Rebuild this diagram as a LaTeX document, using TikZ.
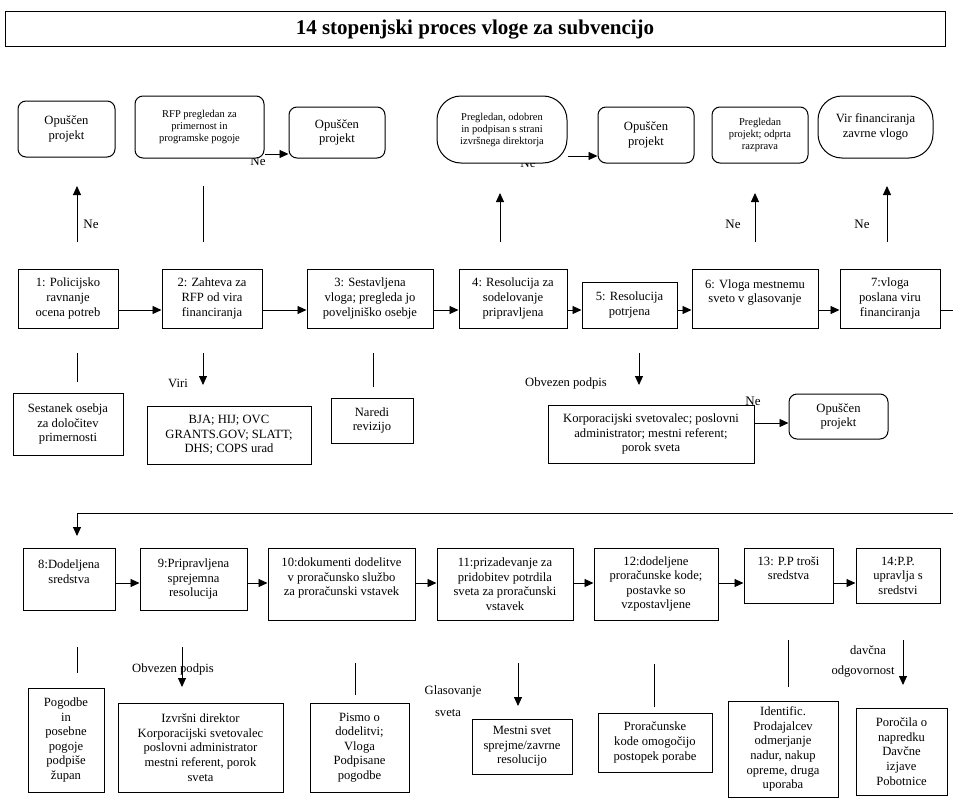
\documentclass[tikz,border=0pt]{standalone}
\usepackage{fontspec}
\setmainfont{Liberation Serif}
\usetikzlibrary{arrows.meta}
\newcommand\fsA{\fontsize{12.6}{14.6}\selectfont}
\newcommand\fsB{\fontsize{10.5}{12}\selectfont}
\newcommand\fsN{\fontsize{13}{15}\selectfont}
\tikzset{
  box/.style={draw, line width=1pt, fill=white, align=center, inner sep=0pt, font=\fsA},
  rbox/.style={box, rounded corners=8pt},
  obox/.style={box, rounded corners=24pt},
  lbl/.style={inner sep=0pt, font=\fsA},
  nelbl/.style={inner sep=0pt, font=\fsN},
  arr/.style={line width=0.9pt, -{Triangle[length=9pt,width=8pt]}},
  ln/.style={line width=0.9pt},
}
\begin{document}
\begin{tikzpicture}[x=1pt,y=-1pt]
\useasboundingbox (0,0) rectangle (953,800);
% title
\node[box, minimum width=940pt, minimum height=35pt, font=\fontsize{21}{25}\selectfont\bfseries] (title) at (475,29.5) {14 stopenjski proces vloge za subvencijo};

% labels hidden partly behind boxes
\node[nelbl] (ne2) at (258,161) {Ne};
\node[nelbl] (ne4) at (528,163) {Ne};
\node[nelbl] (ne5) at (753,401) {Ne};

% top row
\node[rbox, minimum width=97pt, minimum height=56pt] (o1) at (66.5,129) {Opuščen\\projekt};
\node[rbox, minimum width=129pt, minimum height=62pt, font=\fsB] (rfp) at (199.5,127) {RFP pregledan za\\primernost in\\programske pogoje};
\node[rbox, minimum width=96pt, minimum height=51pt] (o2) at (337,132.5) {Opuščen\\projekt};
\node[obox, minimum width=130pt, minimum height=67pt, font=\fsB] (prg) at (502,129.5) {Pregledan, odobren\\in podpisan s strani\\izvršnega direktorja};
\node[rbox, minimum width=96pt, minimum height=56pt] (o3) at (646,135) {Opuščen\\projekt};
\node[rbox, minimum width=96pt, minimum height=56pt, font=\fsB] (ppr) at (760,135) {Pregledan\\projekt; odprta\\razprava};
\node[obox, minimum width=115pt, minimum height=62pt] (vir) at (875.5,127) {Vir financiranja\\zavrne vlogo};

\draw[arr] (rfp.east |- 0,154) -- (o2.west |- 0,154);
\draw[arr] (prg.east |- 0,156) -- (o3.west |- 0,156);

% up stubs
\coordinate (u1a) at (77,242); \coordinate (u1b) at (77,186);
\coordinate (u2a) at (203,242); \coordinate (u2b) at (203,186);
\coordinate (u4a) at (500,242); \coordinate (u4b) at (500,193);
\coordinate (u6a) at (755,242); \coordinate (u6b) at (755,193);
\coordinate (u7a) at (887,242); \coordinate (u7b) at (887,186);
\draw[arr] (u1a) -- (u1b);
\draw[ln] (u2a) -- (u2b);
\draw[arr] (u4a) -- (u4b);
\draw[arr] (u6a) -- (u6b);
\draw[arr] (u7a) -- (u7b);
\node[nelbl] (ne1) at (91,224) {Ne};
\node[nelbl] (ne6) at (733,224) {Ne};
\node[nelbl] (ne7) at (862,224) {Ne};

% row 1
\node[box, minimum width=100pt, minimum height=59pt] (s1) at (68,298.5) {1: Policijsko\\ravnanje\\ocena potreb};
\node[box, minimum width=100pt, minimum height=59pt] (s2) at (212,298.5) {2: Zahteva za\\RFP od vira\\financiranja};
\node[box, minimum width=126pt, minimum height=59pt] (s3) at (370,298.5) {3: Sestavljena\\vloga; pregleda jo\\poveljniško osebje};
\node[box, minimum width=108pt, minimum height=59pt] (s4) at (513,298.5) {4: Resolucija za\\sodelovanje\\pripravljena};
\node[box, minimum width=95pt, minimum height=46pt] (s5) at (629.5,305) {5: Resolucija\\potrjena};
\node[box, minimum width=126pt, minimum height=59pt] (s6) at (755,298.5) {6: Vloga mestnemu\\sveto v glasovanje\\\mbox{}};
\node[box, minimum width=100pt, minimum height=59pt] (s7) at (890,298.5) {7:vloga\\poslana viru\\financiranja};

\draw[arr] (s1.east |- 0,310) -- (s2.west |- 0,310);
\draw[arr] (s2.east |- 0,310) -- (s3.west |- 0,310);
\draw[arr] (s3.east |- 0,310) -- (s4.west |- 0,310);
\draw[arr] (s4.east |- 0,310) -- (s5.west |- 0,310);
\draw[arr] (s5.east |- 0,310) -- (s6.west |- 0,310);
\draw[arr] (s6.east |- 0,310) -- (s7.west |- 0,310);
\coordinate (r7) at (953,310);
\draw[ln] (s7.east |- r7) -- (r7);

% below row 1
\coordinate (d1a) at (77,353); \coordinate (d1b) at (77,382);
\coordinate (d2a) at (203,353); \coordinate (d2b) at (203,385);
\coordinate (d3a) at (373,353); \coordinate (d3b) at (373,387);
\coordinate (d5a) at (639,353); \coordinate (d5b) at (639,385);
\draw[ln] (d1a) -- (d1b);
\draw[arr] (d2a) -- (d2b);
\draw[ln] (d3a) -- (d3b);
\draw[arr] (d5a) -- (d5b);
\node[lbl] (viri) at (178,383) {Viri};
\node[lbl] (obv1) at (566,383) {Obvezen podpis};

\node[box, minimum width=110pt, minimum height=62pt] (bs1) at (68,424) {Sestanek osebja\\za določitev\\primernosti};
\node[box, minimum width=164pt, minimum height=58pt] (bs2) at (229,435) {BJA; HIJ; OVC\\GRANTS.GOV; SLATT;\\DHS; COPS urad};
\node[box, minimum width=82pt, minimum height=45pt] (bs3) at (372,420.5) {Naredi\\revizijo};
\node[box, minimum width=206pt, minimum height=58pt] (bs5) at (651,434) {Korporacijski svetovalec; poslovni\\administrator; mestni referent;\\porok sveta};
\node[rbox, minimum width=99pt, minimum height=45pt] (o4) at (838.5,416.5) {Opuščen\\projekt};
\draw[arr] (bs5.east |- 0,423) -- (o4.west |- 0,423);

% long connector to row 2
\coordinate (r8a) at (953,513);
\coordinate (r8b) at (77,513);
\coordinate (r8c) at (77,536);
\draw[arr] (r8a) -- (r8b) -- (r8c);

% row 2
\node[box, minimum width=92pt, minimum height=62pt] (t8) at (69,579) {8:Dodeljena\\sredstva\\\mbox{}};
\node[box, minimum width=107pt, minimum height=62pt] (t9) at (193.5,579) {9:Pripravljena\\sprejemna\\resolucija};
\node[box, minimum width=147pt, minimum height=72pt] (t10) at (341.5,584) {10:dokumenti dodelitve\\v proračunsko službo\\za proračunski vstavek\\\mbox{}};
\node[box, minimum width=136pt, minimum height=72pt] (t11) at (505,584) {11:prizadevanje za\\pridobitev potrdila\\sveta za proračunski\\vstavek};
\node[box, minimum width=124pt, minimum height=72pt] (t12) at (656,584) {12:dodeljene\\proračunske kode;\\postavke so\\vzpostavljene};
\node[box, minimum width=89pt, minimum height=55pt] (t13) at (788.5,575.5) {13: P.P troši\\sredstva\\\mbox{}};
\node[box, minimum width=84pt, minimum height=55pt] (t14) at (898,575.5) {14:P.P.\\upravlja s\\sredstvi};

\draw[arr] (t8.east |- 0,583) -- (t9.west |- 0,583);
\draw[arr] (t9.east |- 0,583) -- (t10.west |- 0,583);
\draw[arr] (t10.east |- 0,583) -- (t11.west |- 0,583);
\draw[arr] (t11.east |- 0,583) -- (t12.west |- 0,583);
\draw[arr] (t12.east |- 0,583) -- (t13.west |- 0,583);
\draw[arr] (t13.east |- 0,583) -- (t14.west |- 0,583);

% below row 2
\node[lbl] (obv2) at (173,669) {Obvezen podpis};
\node[lbl] (glas) at (453,691) {Glasovanje};
\node[lbl] (sveta) at (448,713) {sveta};
\node[lbl] (davc) at (868,650) {davčna};
\node[lbl] (odg) at (863,671) {odgovornost};
\coordinate (e8a) at (77,647); \coordinate (e8b) at (77,673);
\coordinate (e9a) at (182,647); \coordinate (e9b) at (182,687);
\coordinate (e10a) at (355,663); \coordinate (e10b) at (355,695);
\coordinate (e11a) at (518,663); \coordinate (e11b) at (518,706);
\coordinate (e12a) at (654,664); \coordinate (e12b) at (654,707);
\coordinate (e13a) at (788,640); \coordinate (e13b) at (788,687);
\coordinate (e14a) at (903,640); \coordinate (e14b) at (903,685);
\draw[ln] (e8a) -- (e8b);
\draw[arr] (e9a) -- (e9b);
\draw[ln] (e10a) -- (e10b);
\draw[arr] (e11a) -- (e11b);
\draw[ln] (e12a) -- (e12b);
\draw[ln] (e13a) -- (e13b);
\draw[arr] (e14a) -- (e14b);

\node[box, minimum width=76pt, minimum height=104pt] (u8) at (66,740) {Pogodbe\\in\\posebne\\pogoje\\podpiše\\župan};
\node[box, minimum width=165pt, minimum height=89pt] (u9) at (200.5,747.5) {Izvršni direktor\\Korporacijski svetovalec\\poslovni administrator\\mestni referent, porok\\sveta};
\node[box, minimum width=99pt, minimum height=89pt] (u10) at (359.5,747.5) {Pismo o\\dodelitvi;\\Vloga\\Podpisane\\pogodbe};
\node[box, minimum width=100pt, minimum height=55pt] (u11) at (522,746.5) {Mestni svet\\sprejme/zavrne\\resolucijo};
\node[box, minimum width=114pt, minimum height=59pt] (u12) at (655,742.5) {Proračunske\\kode omogočijo\\postopek porabe};
\node[box, minimum width=110pt, minimum height=96pt] (u13) at (783,749) {Identific.\\Prodajalcev\\odmerjanje\\nadur, nakup\\opreme, druga\\uporaba};
\node[box, minimum width=91pt, minimum height=87pt] (u14) at (901.5,751.5) {Poročila o\\napredku\\Davčne\\izjave\\Pobotnice};
\end{tikzpicture}
\end{document}
